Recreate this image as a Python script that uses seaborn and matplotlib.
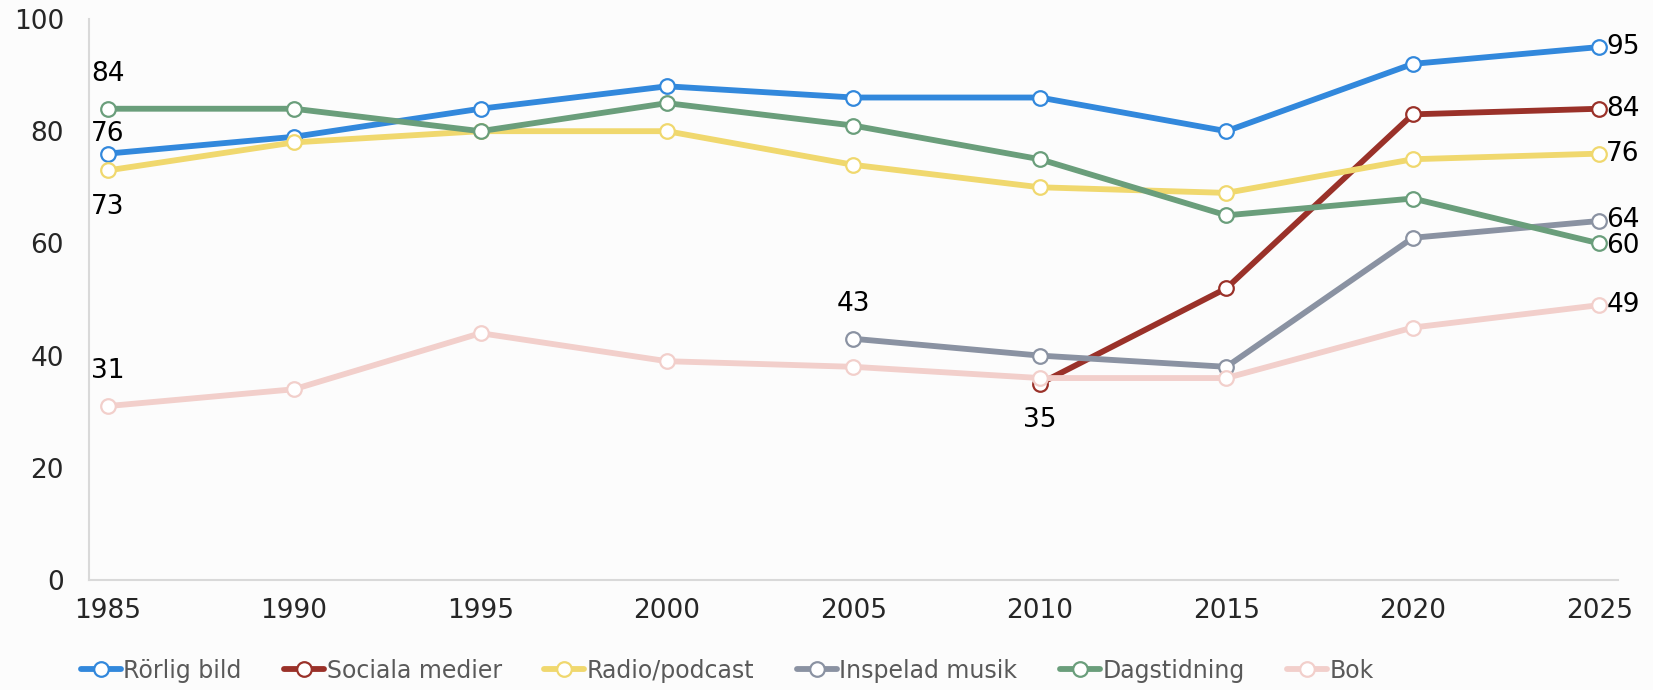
import matplotlib
matplotlib.use("Agg")
import matplotlib.pyplot as plt
import numpy as np
import pandas as pd
import seaborn as sns

# -- data --------------------------------------------------------------------

YEARS = [1985, 1990, 1995, 2000, 2005, 2010, 2015, 2020, 2025]

RORLIG_BILD = [76, 79, 84, 88, 86, 86, 80, 92, 95]
SOCIALA_MEDIER = [None, None, None, None, None, 35, 52, 83, 84]
RADIO_PODCAST = [73, 78, 80, 80, 74, 70, 69, 75, 76]
INSPELAD_MUSIK = [None, None, None, None, 43, 40, 38, 61, 64]
DAGSTIDNING = [84, 84, 80, 85, 81, 75, 65, 68, 60]
BOK = [31, 34, 44, 39, 38, 36, 36, 45, 49]

SERIES = [
    ("Rörlig bild", RORLIG_BILD, "#3288dc"),
    ("Sociala medier", SOCIALA_MEDIER, "#9a3129"),
    ("Radio/podcast", RADIO_PODCAST, "#f0d86e"),
    ("Inspelad musik", INSPELAD_MUSIK, "#8a92a2"),
    ("Dagstidning", DAGSTIDNING, "#6a9e7b"),
    ("Bok", BOK, "#f2cfcb"),
]

Y_TICKS = [0, 20, 40, 60, 80, 100]

# first-value labels: offset in points
FIRST_LABEL_OFFSETS = {
    "Rörlig bild": (0, 14),
    "Sociala medier": (0, -26),
    "Radio/podcast": (0, -26),
    "Inspelad musik": (0, 25),
    "Dagstidning": (0, 25),
    "Bok": (0, 25),
}
LAST_LABEL_DY = {
    "Rörlig bild": 0,
    "Sociala medier": 0,
    "Radio/podcast": 0,
    "Inspelad musik": 1,
    "Dagstidning": -2,
    "Bok": 0,
}

# -- style -------------------------------------------------------------------

BG = "#fcfcfc"
AXIS_GREY = "#d9d9d9"
FS = 19

sns.set_theme(style="white")
plt.rcParams["font.family"] = ["DejaVu Sans"]

fig = plt.figure(figsize=(16.53, 6.9), dpi=100, facecolor=BG)
ax = fig.add_axes([0.0538, 0.1594, 0.9250, 0.8131], facecolor=BG)

for name, values, color in SERIES:
    df = pd.DataFrame({"year": YEARS, "value": values}).dropna()
    sns.lineplot(
        data=df,
        x="year",
        y="value",
        color=color,
        linewidth=4.2,
        marker="o",
        markersize=10.5,
        markerfacecolor="white",
        markeredgecolor=color,
        markeredgewidth=1.6,
        label=name,
        ax=ax,
    )
    first_x, first_y = df.iloc[0]["year"], df.iloc[0]["value"]
    last_x, last_y = df.iloc[-1]["year"], df.iloc[-1]["value"]
    ax.annotate(
        f"{first_y:.0f}",
        (first_x, first_y),
        xytext=FIRST_LABEL_OFFSETS[name],
        textcoords="offset points",
        ha="center",
        va="center",
        fontsize=FS,
        color="black",
    )
    ax.annotate(
        f"{last_y:.0f}",
        (last_x, last_y),
        xytext=(5, LAST_LABEL_DY[name]),
        textcoords="offset points",
        ha="left",
        va="center",
        fontsize=FS,
        color="black",
    )

ax.set_xlim(1984.5, 2025.5)
ax.set_ylim(0, 100)
ax.set_xticks(YEARS)
ax.set_yticks(Y_TICKS)
ax.set_xlabel("")
ax.set_ylabel("")
ax.tick_params(axis="y", length=7, width=1.2, color=AXIS_GREY, pad=11, labelsize=FS)
ax.tick_params(axis="x", length=0, pad=13, labelsize=FS)
ax.grid(False)
for side in ("top", "right"):
    ax.spines[side].set_visible(False)
for side in ("left", "bottom"):
    ax.spines[side].set_color(AXIS_GREY)
    ax.spines[side].set_linewidth(1.5)

handles, labels = ax.get_legend_handles_labels()
ax.get_legend().remove()
fig.legend(
    handles,
    labels,
    loc="center left",
    bbox_to_anchor=(0.036, 0.028),
    ncol=6,
    frameon=False,
    fontsize=17,
    handlelength=1.7,
    handletextpad=0.1,
    columnspacing=1.8,
    labelcolor="#595959",
)

fig.savefig("out.png", dpi=100, facecolor=BG)
